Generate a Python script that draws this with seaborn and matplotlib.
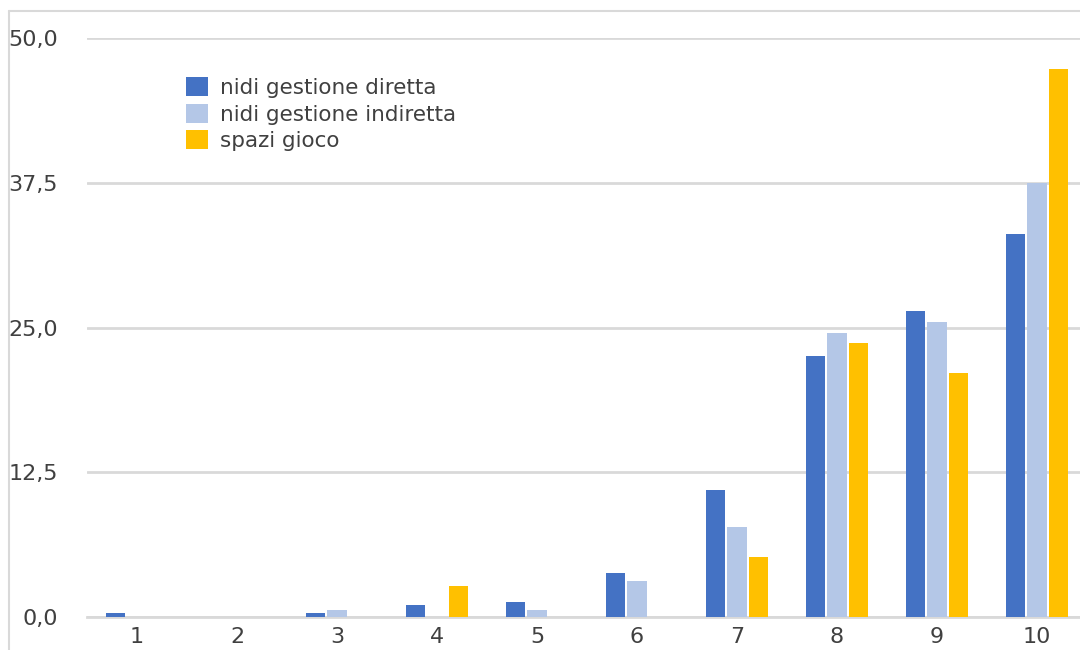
import matplotlib
matplotlib.use("Agg")
import matplotlib.pyplot as plt
from matplotlib.lines import Line2D
import pandas as pd
import seaborn as sns

categorie = ["1", "2", "3", "4", "5", "6", "7", "8", "9", "10"]
serie = ["nidi gestione diretta", "nidi gestione indiretta", "spazi gioco"]
diretta = [0.35, 0.0, 0.35, 1.0, 1.3, 3.8, 11.0, 22.5, 26.4, 33.1]
indiretta = [0.0, 0.0, 0.6, 0.0, 0.6, 3.1, 7.8, 24.5, 25.5, 37.5]
spazi = [0.0, 0.0, 0.0, 2.7, 0.0, 0.0, 5.2, 23.7, 21.1, 47.3]
colori = ["#4472C4", "#B4C7E7", "#FFC000"]
yticks = [0, 12.5, 25, 37.5, 50]
ytick_labels = ["0,0", "12,5", "25,0", "37,5", "50,0"]

rows = []
for nome, valori in zip(serie, [diretta, indiretta, spazi]):
    for c, v in zip(categorie, valori):
        rows.append({"cat": c, "serie": nome, "val": v})
df = pd.DataFrame(rows)

sns.set_style("white")
plt.rcParams["font.family"] = ["DejaVu Sans"]
text_col = "#404040"
grid_col = "#d9d9d9"

fig = plt.figure(figsize=(10.8, 6.5), dpi=100)
ax = fig.add_axes([87 / 1080, 33 / 650, 1000 / 1080, 579 / 650])

sns.barplot(data=df, x="cat", y="val", hue="serie", order=categorie,
            hue_order=serie, palette=colori, saturation=1,
            width=0.65, gap=0.12, linewidth=0, ax=ax, zorder=3)

ax.set_xlim(-0.5, 9.5)
ax.set_ylim(0, 50)
ax.set_yticks(yticks)
ax.set_yticklabels(ytick_labels)
ax.set_xlabel("")
ax.set_ylabel("")
ax.tick_params(axis="both", length=0, labelsize=16, colors=text_col)
ax.tick_params(axis="y", pad=21)
ax.tick_params(axis="x", pad=7)
ax.grid(axis="y", color=grid_col, lw=2, zorder=0)
ax.set_axisbelow(True)
for s in ["top", "right", "left"]:
    ax.spines[s].set_visible(False)
ax.spines["bottom"].set_color(grid_col)
ax.spines["bottom"].set_linewidth(2)

leg = ax.legend(loc="upper left", bbox_to_anchor=(186 / 1080, 1 - 77 / 650),
                bbox_transform=fig.transFigure, frameon=False, fontsize=15.5,
                handlelength=1.0, handleheight=1.0, labelspacing=0.26,
                handletextpad=0.6, borderpad=0, borderaxespad=0)
for t in leg.get_texts():
    t.set_color(text_col)

# cornice del grafico
fig.add_artist(Line2D([9 / 1080, 1], [1 - 11 / 650, 1 - 11 / 650],
                      transform=fig.transFigure, color=grid_col, lw=1.5))
fig.add_artist(Line2D([9 / 1080, 9 / 1080], [0, 1 - 11 / 650],
                      transform=fig.transFigure, color=grid_col, lw=1.5))

fig.savefig("out.png", dpi=100)
